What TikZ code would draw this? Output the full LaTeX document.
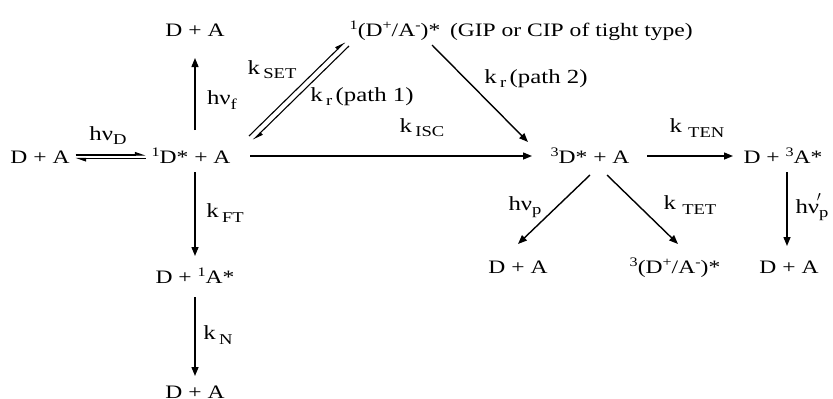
\documentclass[tikz,border=0pt]{standalone}
\usepackage{fontspec}
\setmainfont{Liberation Serif}[FakeStretch=1.24]
\usetikzlibrary{arrows.meta,calc}
\newcommand{\ksub}[1]{\raisebox{-0.45ex}{\fontsize{15}{15}\selectfont #1}}
\newcommand{\ssup}[1]{\raisebox{0.75ex}{\fontsize{13}{13}\selectfont #1}}
\newcommand{\pprime}{\makebox[0pt][l]{\hspace{-0.12em}\raisebox{0.5ex}{$^{\prime}$}}}
\begin{document}
\begin{tikzpicture}[x=1pt,y=-1pt,
  font=\fontsize{19}{21}\selectfont,
  every node/.style={inner sep=0pt, outer sep=0pt},
  sp/.style={anchor=base},
  lab/.style={anchor=center, font=\fontsize{20}{22}\selectfont},
  rx/.style={line width=1.4pt, -{Triangle[length=9pt,width=7pt]}},
  hp/.style={line width=1.1pt, -{Triangle[left,length=9pt,width=6pt]}}]
\useasboundingbox (0,0) rectangle (833,399);
% species
\node[sp] (dal) at (40,163) {D + A};
\node[sp] (s1) at (191,163) {\ssup{1}D* + A};
\node[sp] (dat) at (195,36) {D + A};
\node[sp] (ip1) at (395,36) {\ssup{1}(D\ssup{+}/A\ssup{-})*};
\node[sp,anchor=base west] (gip) at (450,36) {(GIP or CIP of tight type)};
\node[sp] (t1) at (590,163) {\ssup{3}D* + A};
\node[sp] (d3a) at (783,163) {D + \ssup{3}A*};
\node[sp] (fa) at (195,283) {D + \ssup{1}A*};
\node[sp] (fb) at (195,398) {D + A};
\node[sp] (pa) at (518,273) {D + A};
\node[sp] (ip3) at (675,273) {\ssup{3}(D\ssup{+}/A\ssup{-})*};
\node[sp] (ea) at (789,273) {D + A};
% labels
\node[lab] (lD) at (108,136) {hν\ksub{D}};
\node[lab] (lf) at (222,100) {hν\ksub{f}};
\node[lab] (lset) at (272,70) {k\,\ksub{SET}};
\node[lab] (lr1) at (362,97) {k\,\ksub{r}\,(path 1)};
\node[lab] (lisc) at (422,128) {k\,\ksub{ISC}};
\node[lab] (lr2) at (536,79) {k\,\ksub{r}\,(path 2)};
\node[lab] (lten) at (697,128) {k \ksub{TEN}};
\node[lab] (lp) at (525,207) {hν\ksub{p}};
\node[lab] (ltet) at (690,205) {k \ksub{TET}};
\node[lab] (lpp) at (812,207) {hν\pprime\ksub{p}};
\node[lab] (lft) at (225,213) {k\,\ksub{FT}};
\node[lab] (ln) at (218,335) {k\,\ksub{N}};
% connectors
\draw[hp] ($(dal.base east)+(6,-8)$) -- ($(s1.base west)+(-6,-8)$);
\draw[hp] ($(s1.base west)+(-6,-4.5)$) -- ($(dal.base east)+(6,-4.5)$);
\draw[rx] ($(s1.base)+(4,-33)$) -- ($(dat.base)+(0,22)$);
\draw[rx] ($(s1.base)+(4,9)$) -- ($(fa.base)+(0,-27)$);
\draw[rx] ($(fa.base)+(0,14)$) -- ($(fb.base)+(0,-22)$);
\draw[hp] ($(s1.base)+(58,-27)$) -- ($(ip1.base)+(-50,6)$);
\draw[hp] ($(ip1.base)+(-46,10)$) -- ($(s1.base)+(62,-23)$);
\draw[rx] ($(ip1.base)+(37,9)$) -- ($(t1.base)+(-62,-21)$);
\draw[rx] ($(s1.base)+(59,-7)$) -- ($(t1.base)+(-58,-7)$);
\draw[rx] ($(t1.base)+(57,-7)$) -- ($(d3a.base)+(-50,-7)$);
\draw[rx] ($(d3a.base)+(4,9)$) -- ($(ea.base)+(-2,-27)$);
\draw[rx] ($(t1.base)+(0,12)$) -- ($(pa.base)+(0,-29)$);
\draw[rx] ($(t1.base)+(17,12)$) -- ($(ip3.base)+(3,-29)$);
\end{tikzpicture}
\end{document}
